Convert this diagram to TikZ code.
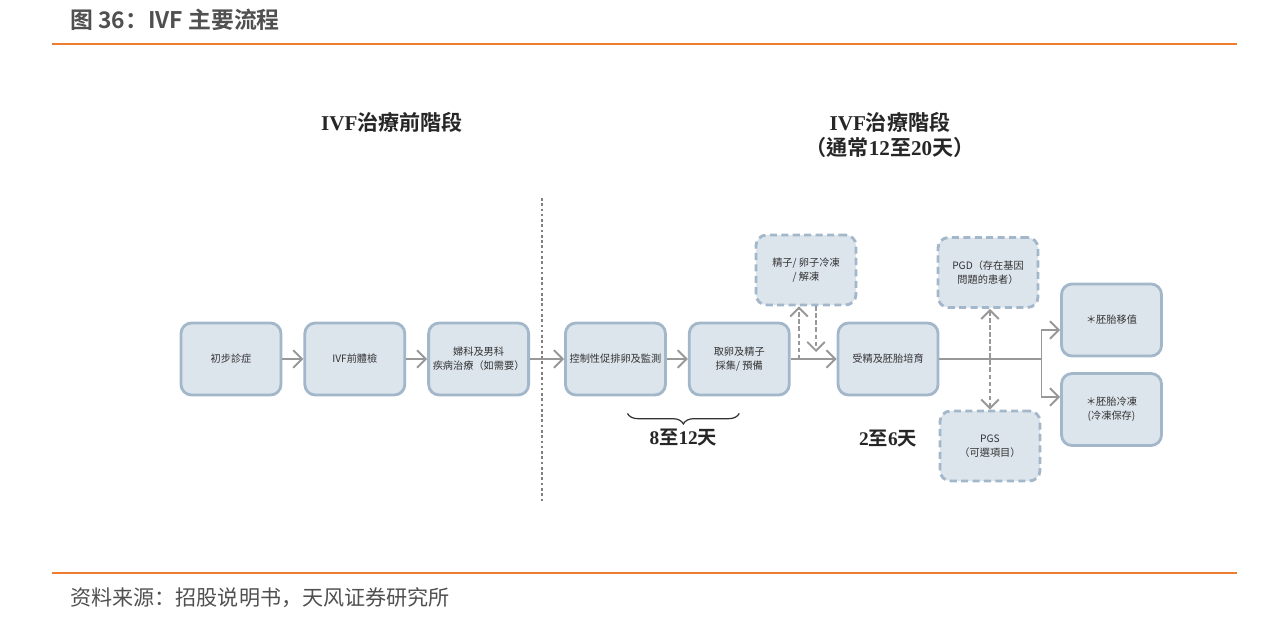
\documentclass[tikz,border=0pt]{standalone}
\usepackage{fontspec}
\usepackage{tikz}
\usetikzlibrary{arrows.meta, positioning, decorations.pathreplacing}
\newfontfamily\tcfont{Noto Sans CJK TC}[BoldFont={Noto Sans CJK TC Bold}]
\newfontfamily\scfont{Noto Sans CJK SC}[BoldFont={Noto Sans CJK SC Bold}]
\newfontfamily\latfont{Liberation Serif}
\definecolor{boxfill}{RGB}{220,228,236}
\definecolor{boxline}{RGB}{163,183,202}
\definecolor{arrowgray}{RGB}{152,152,152}
\definecolor{tforange}{RGB}{237,125,49}
\definecolor{titlegray}{RGB}{80,80,80}
\definecolor{textdark}{RGB}{51,51,51}
\tikzset{
  stepbox/.style={rectangle, rounded corners=6pt, draw=boxline, fill=boxfill, line width=1.6pt,
                  minimum width=2.0cm, minimum height=1.44cm, align=center, inner sep=1pt,
                  font=\tcfont\fontsize{5.8}{8}\selectfont, text=textdark},
  optbox/.style={stepbox, dash pattern=on 4pt off 2.5pt, minimum height=1.4cm},
  tip/.tip={Straight Barb[length=5pt, width=10pt, line width=1.1pt]},
  arrow/.style={-tip, line width=1.1pt, color=arrowgray},
  dasharrow/.style={-tip, line width=1.3pt, dash pattern=on 2.5pt off 1.5pt, color=arrowgray},
  sepline/.style={line width=0.6pt, dash pattern=on 1.5pt off 1.5pt, color=gray},
  stagetitle/.style={font=\tcfont\bfseries\fontsize{12}{14.7}\selectfont, text=black!85, align=center},
  daylabel/.style={font=\tcfont\bfseries\fontsize{11}{13}\selectfont, text=black!85},
  brace/.style={decorate, decoration={brace, mirror, amplitude=6pt}, line width=0.7pt, color=black!80},
}

\begin{document}
\begin{tikzpicture}
  \useasboundingbox (0,0) rectangle (25.26,12.46);

  % header and footer
  \node[anchor=west, inner sep=0, font=\scfont\bfseries\fontsize{13}{15}\selectfont, text=titlegray]
    (head) at (1.4,12.06) {图 36：IVF 主要流程};
  \draw[tforange, line width=1.2pt] (1.04,11.58) -- (24.74,11.58);
  \draw[tforange, line width=1.2pt] (1.04,1.0) -- (24.74,1.0);
  \node[anchor=west, inner sep=0, font=\scfont\fontsize{12}{14}\selectfont, text=titlegray]
    (src) at (1.4,0.5) {资料来源：招股说明书，天风证券研究所};

  % stage titles
  \node[stagetitle] (pre) at (7.84,10.02) {{\latfont IVF}治療前階段};
  \node[stagetitle] (main) at (17.8,9.76) {{\latfont IVF}治療階段\\（通常{\latfont 12}至{\latfont 20}天）};
  \draw[sepline] (10.84,8.5) -- (10.84,2.42);

  % main row
  \node[stepbox] (diag) at (4.62,5.28) {初步診症};
  \node[stepbox, right=0.42cm of diag] (check) {IVF前體檢};
  \node[stepbox, right=0.42cm of check] (treat) {婦科及男科\\疾病治療（如需要）};
  \node[stepbox, right=0.68cm of treat] (ctrl) {控制性促排卵及監測};
  \node[stepbox, right=0.42cm of ctrl] (egg) {取卵及精子\\採集/ 預備};
  \node[stepbox, right=0.92cm of egg] (fert) {受精及胚胎培育};

  % optional steps
  \node[optbox] (frz) at (16.12,7.06) {精子/ 卵子冷凍\\/ 解凍};
  \node[optbox] (pgd) at (19.76,7.01) {PGD（存在基因\\問題的患者）};
  \node[optbox] (pgs) at (19.8,3.54) {PGS\\（可選項目）};

  % outcomes
  \node[stepbox] (trans) at (22.23,6.06) {＊胚胎移值};
  \node[stepbox] (store) at (22.23,4.27) {＊胚胎冷凍\\(冷凍保存)};

  \draw[arrow] (diag) -- (check);
  \draw[arrow] (check) -- (treat);
  \draw[arrow] (treat) -- (ctrl);
  \draw[arrow] (ctrl) -- (egg);
  \draw[arrow] (egg) -- (fert);

  \draw[dasharrow] ([xshift=-0.14cm]frz.south |- egg.east) -- ([xshift=-0.14cm]frz.south);
  \draw[dasharrow] ([xshift=0.2cm]frz.south) -- ([xshift=0.2cm, yshift=0.14cm]frz.south |- egg.east);

  \coordinate (split) at ([xshift=2.04cm]fert.east);
  \draw[arrow] (fert.east) -- (split) |- ([yshift=-0.2cm]trans.west);
  \draw[arrow] (split) |- ([yshift=0.25cm]store.west);

  \draw[dasharrow, tip-tip] (pgs.north |- pgd.south) -- (pgs.north);

  % durations
  \coordinate (bl) at ([xshift=0.24cm, yshift=-0.34cm]ctrl.south);
  \coordinate (br) at ([yshift=-0.34cm]egg.south);
  \draw[brace] (bl) -- node[daylabel, below=5pt] (d812) {{\latfont 8}至{\latfont 12}天} (br);
  \node[daylabel, below=0.55cm of fert] (d26) {{\latfont 2}至{\latfont 6}天};
\end{tikzpicture}
\end{document}
